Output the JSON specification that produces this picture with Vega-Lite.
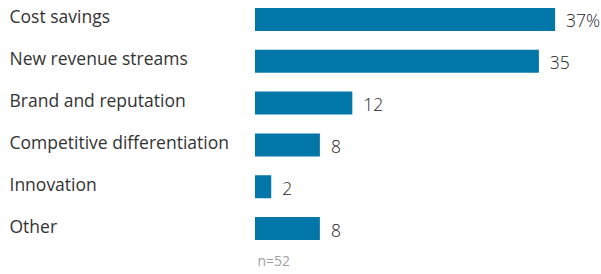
{
  "$schema": "https://vega.github.io/schema/vega-lite/v6.json",
  "autosize": "none",
  "width": 346,
  "height": 248,
  "padding": {"left": 255, "top": 0, "right": 0, "bottom": 26},
  "background": "white",
  "config": {"view": {"stroke": null}, "font": "Open Sans"},
  "data": {
    "values": [
      {"category": "Cost savings", "value": 37, "label": "37%"},
      {"category": "New revenue streams", "value": 35, "label": "35"},
      {"category": "Brand and reputation", "value": 12, "label": "12"},
      {"category": "Competitive differentiation", "value": 8, "label": "8"},
      {"category": "Innovation", "value": 2, "label": "2"},
      {"category": "Other", "value": 8, "label": "8"}
    ]
  },
  "encoding": {
    "y": {
      "field": "category",
      "type": "nominal",
      "sort": null,
      "scale": {"paddingInner": 0.45, "paddingOuter": 0.19},
      "axis": {
        "title": null,
        "ticks": false,
        "domain": false,
        "labelAlign": "left",
        "labelPadding": 246,
        "labelLimit": 300,
        "labelFontSize": 17.5,
        "labelColor": "#333333",
        "labelFont": "Open Sans",
        "labelBaseline": "middle",
        "labelOffset": -1
      }
    },
    "x": {
      "field": "value",
      "type": "quantitative",
      "scale": {"domain": [0, 42.66], "nice": false, "zero": true},
      "axis": {
        "labels": false,
        "ticks": false,
        "domain": false,
        "grid": false,
        "title": "n=52",
        "titleAnchor": "start",
        "titleAlign": "left",
        "titleFontWeight": "normal",
        "titleFontSize": 14,
        "titleFont": "Open Sans",
        "titleColor": "#a0a0a0",
        "titlePadding": 6,
        "titleX": 2
      }
    }
  },
  "layer": [
    {"mark": {"type": "bar", "color": "#0077a8"}},
    {
      "mark": {"type": "text", "align": "left", "baseline": "middle", "dx": 11, "dy": 3, "fontSize": 17.5, "fontWeight": 300, "color": "#222222", "font": "Open Sans"},
      "encoding": {"text": {"field": "label"}}
    }
  ]
}
